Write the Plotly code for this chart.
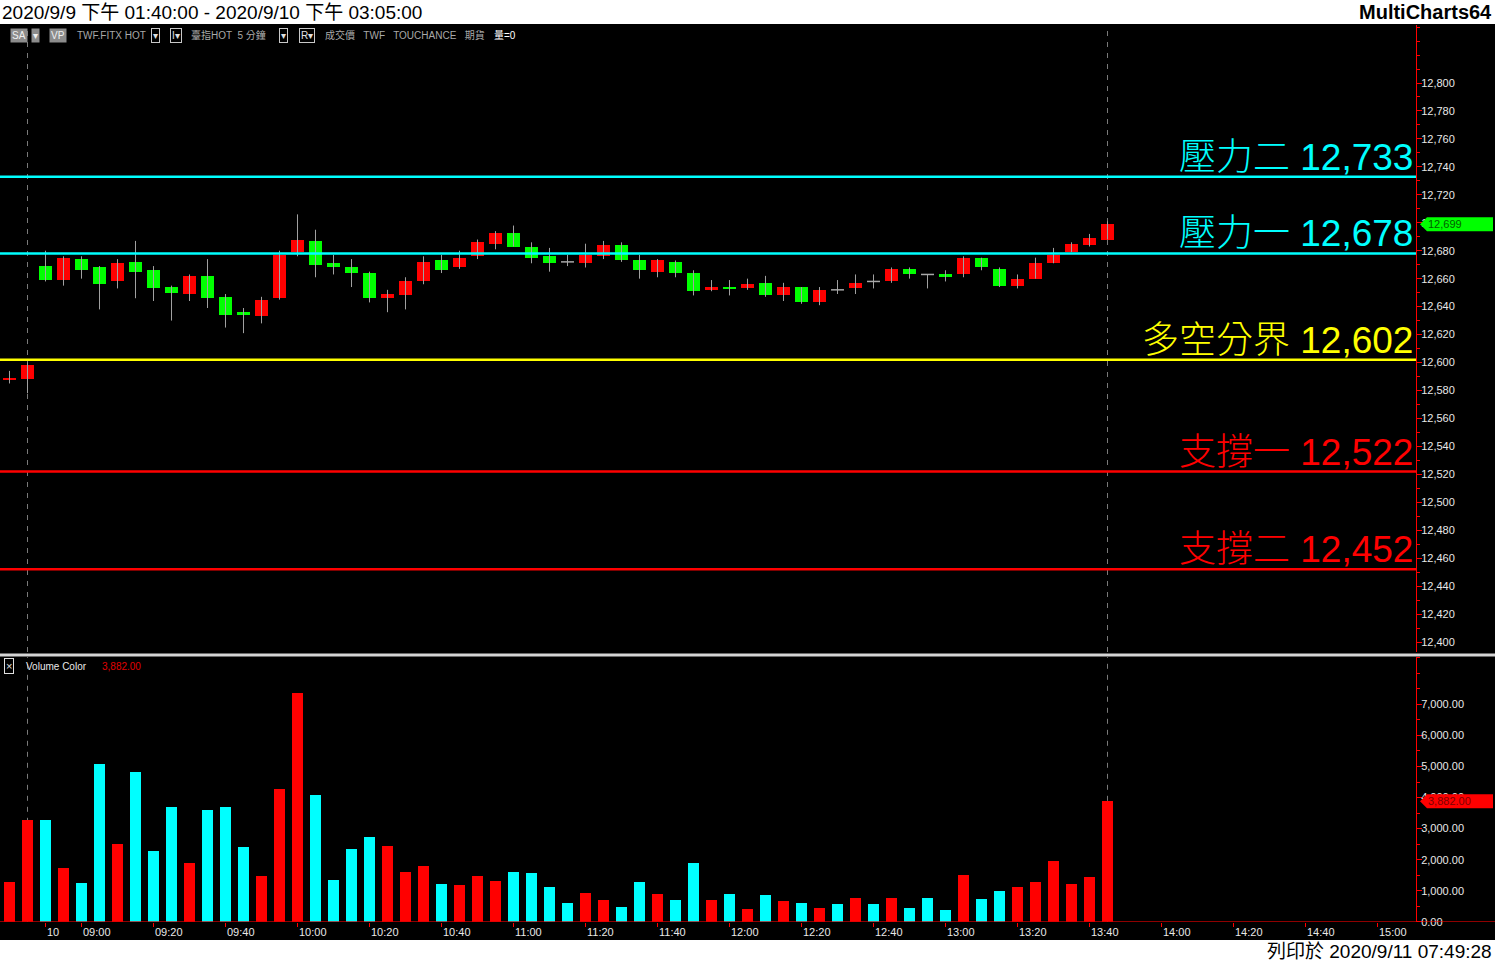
import plotly.graph_objects as go

# ---------------- data ----------------
bar_index = list(range(62))
opens = [12588, 12588, 12669, 12659, 12674, 12668, 12658, 12672, 12666, 12654,
         12649, 12662, 12647, 12636, 12633, 12646, 12679, 12687, 12671, 12668,
         12664, 12646, 12648, 12658, 12673, 12668, 12676, 12685, 12693, 12683,
         12676, 12672, 12671, 12676, 12684, 12673, 12665, 12672, 12664, 12652,
         12654, 12653, 12657, 12648, 12654, 12643, 12652, 12653, 12658, 12658,
         12667, 12663, 12663, 12663, 12675, 12667, 12655, 12660, 12671, 12679,
         12684, 12688]
highs = [12594, 12600, 12680, 12676, 12676, 12669, 12674, 12687, 12669, 12655,
         12663, 12674, 12649, 12639, 12647, 12680, 12706, 12695, 12677, 12674,
         12665, 12652, 12661, 12676, 12677, 12680, 12688, 12694, 12698, 12686,
         12682, 12677, 12685, 12687, 12686, 12677, 12674, 12673, 12666, 12659,
         12659, 12660, 12662, 12657, 12654, 12654, 12659, 12663, 12663, 12668,
         12668, 12663, 12666, 12676, 12675, 12668, 12663, 12675, 12682, 12686,
         12692, 12701]
lows = [12585, 12578, 12658, 12655, 12660, 12638, 12653, 12646, 12644, 12630,
        12644, 12639, 12625, 12621, 12628, 12645, 12676, 12661, 12663, 12654,
        12643, 12636, 12638, 12656, 12664, 12667, 12674, 12681, 12683, 12671,
        12665, 12669, 12668, 12674, 12672, 12660, 12661, 12661, 12648, 12651,
        12648, 12652, 12647, 12644, 12642, 12641, 12649, 12649, 12653, 12657,
        12660, 12653, 12658, 12661, 12666, 12654, 12653, 12660, 12671, 12679,
        12683, 12688]
closes = [12589, 12598, 12659, 12675, 12666, 12656, 12671, 12665, 12653, 12650,
          12662, 12646, 12634, 12634, 12645, 12677, 12688, 12670, 12668, 12664,
          12646, 12649, 12658, 12672, 12666, 12675, 12686, 12693, 12683, 12675,
          12671, 12672, 12677, 12684, 12673, 12666, 12673, 12664, 12651, 12654,
          12653, 12656, 12648, 12654, 12643, 12652, 12652, 12657, 12658, 12667,
          12663, 12663, 12661, 12675, 12668, 12655, 12660, 12671, 12677, 12685,
          12689, 12699]
volumes = [1281, 3277, 3277, 1731, 1249, 5079, 2504, 4822, 2279, 3695,
           1892, 3599, 3695, 2408, 1474, 4275, 7365, 4081, 1345, 2343,
           2729, 2440, 1603, 1796, 1216, 1184, 1474, 1313, 1603, 1571,
           1120, 605, 927, 701, 476, 1281, 895, 701, 1892, 701,
           895, 412, 862, 669, 605, 444, 573, 766, 573, 766,
           444, 766, 380, 1506, 734, 991, 1120, 1281, 1957, 1216,
           1442, 3882]

time_tick_index = [2, 4, 8, 12, 16, 20, 24, 28, 32, 36, 40, 44, 48, 52, 56, 60, 64, 68, 72, 76]
time_tick_labels = ["10", "09:00", "09:20", "09:40", "10:00", "10:20", "10:40", "11:00",
                    "11:20", "11:40", "12:00", "12:20", "12:40", "13:00", "13:20", "13:40",
                    "14:00", "14:20", "14:40", "15:00"]

level_names = ["壓力二", "壓力一", "多空分界", "支撐一", "支撐二"]
level_values = [12733, 12678, 12602, 12522, 12452]
level_colors = ["#00ffff", "#00ffff", "#ffff00", "#ff0000", "#ff0000"]

price_ticks = list(range(12400, 12801, 20))
volume_ticks = list(range(0, 7001, 1000))
session_break_index = 1

# ---------------- geometry ----------------
W, H = 1495, 962
PLOT_R = 1416
def fx(p):
    return p / W
def fy(p):
    return 1 - p / H

UP, DOWN, DOJI = "#ff0000", "#00ff00", "#a8a8a8"
VUP, VDOWN = "#ff0000", "#00ffff"
WICK = "#a0a0a0"
TXT = "#e8e8e8"
BW = 0.72

fig = go.Figure()

# wicks
wx, wy = [], []
for i, h, l in zip(bar_index, highs, lows):
    wx += [i, i, None]
    wy += [l, h, None]
fig.add_trace(go.Scatter(x=wx, y=wy, mode="lines", line=dict(color=WICK, width=1),
                         hoverinfo="skip", showlegend=False, xaxis="x", yaxis="y"))

# bodies
bx, bbase, bh, bc = [], [], [], []
dx, dy = [], []
for i, o, c in zip(bar_index, opens, closes):
    if c == o:
        dx += [i - BW / 2, i + BW / 2, None]
        dy += [o, o, None]
    else:
        bx.append(i)
        bbase.append(min(o, c))
        bh.append(abs(c - o))
        bc.append(UP if c > o else DOWN)
fig.add_trace(go.Bar(x=bx, y=bh, base=bbase, width=BW, marker=dict(color=bc, line=dict(width=0)),
                     showlegend=False, xaxis="x", yaxis="y"))
fig.add_trace(go.Scatter(x=dx, y=dy, mode="lines", line=dict(color=DOJI, width=1.5),
                         hoverinfo="skip", showlegend=False, xaxis="x", yaxis="y"))

# volume
vcol = [VUP if c > o else VDOWN for o, c in zip(opens, closes)]
fig.add_trace(go.Bar(x=bar_index, y=volumes, width=0.61, marker=dict(color=vcol, line=dict(width=0)),
                     showlegend=False, xaxis="x2", yaxis="y2"))

xr = [-9.5 / 18, (PLOT_R - 9.5) / 18]
price_range = [12800 - (652 - 83) / 1.3975, 12800 + (83 - 25) / 1.3975]
vol_scale = 0.031067
vol_range = [0, (921.8 - 657) / vol_scale]

axis_font = dict(family="Liberation Sans, Arial, sans-serif", size=11, color=TXT)

fig.update_layout(
    width=W, height=H,
    margin=dict(l=0, r=0, t=0, b=0, pad=0, autoexpand=False),
    paper_bgcolor="white", plot_bgcolor="black",
    barmode="overlay", bargap=0,
    showlegend=False,
    xaxis=dict(domain=[0, fx(PLOT_R)], range=xr, anchor="y", showgrid=False, zeroline=False,
               showticklabels=False, ticks="", showline=False, automargin=False),
    xaxis2=dict(domain=[0, fx(PLOT_R)], range=xr, anchor="y2", showgrid=False, zeroline=False,
                tickmode="array", tickvals=time_tick_index, showticklabels=False, automargin=False,
                ticks="outside", ticklen=4, tickcolor="#ff0000", tickwidth=1, showline=False),
    yaxis=dict(domain=[fy(652), fy(25)], range=price_range, anchor="x", side="right",
               showgrid=False, zeroline=False, showline=True, linecolor="#ff0000", linewidth=1,
               automargin=False, ticklabelstandoff=-3,
               tickmode="array", tickvals=price_ticks, ticktext=[f"{v:,}" for v in price_ticks],
               ticks="outside", ticklen=5, tickcolor="#ff0000", tickfont=axis_font,
               minor=dict(tickmode="linear", tick0=12400, dtick=10, ticks="outside", ticklen=3,
                          tickcolor="#ff0000", showgrid=False)),
    yaxis2=dict(domain=[fy(921.8), fy(657)], range=vol_range, anchor="x2", side="right",
                showgrid=False, zeroline=False, showline=True, linecolor="#ff0000", linewidth=1,
                automargin=False, ticklabelstandoff=-3,
                tickmode="array", tickvals=volume_ticks, ticktext=[f"{v:,.2f}" for v in volume_ticks],
                ticks="outside", ticklen=5, tickcolor="#ff0000", tickfont=axis_font,
                minor=dict(tickmode="linear", tick0=0, dtick=500, ticks="outside", ticklen=3,
                           tickcolor="#ff0000", showgrid=False)),
)

shapes = []
# black working area
shapes.append(dict(type="rect", xref="paper", yref="paper", x0=0, x1=1, y0=fy(940), y1=fy(24),
                   fillcolor="black", line=dict(width=0), layer="below"))
# pane separator
shapes.append(dict(type="line", xref="paper", yref="paper", x0=0, x1=1, y0=fy(655), y1=fy(655),
                   line=dict(color="#d4d4d4", width=3), layer="above"))
# bottom axis line
shapes.append(dict(type="line", xref="paper", yref="y2", x0=0, x1=1, y0=0, y1=0,
                   line=dict(color="#ff0000", width=1.2), layer="above"))
# session dashed lines
for xi in [session_break_index, bar_index[-1]]:
    for yr in ["y domain", "y2 domain"]:
        shapes.append(dict(type="line", xref="x" if yr.startswith("y ") else "x2", yref=yr,
                           x0=xi, x1=xi, y0=0, y1=1,
                           line=dict(color="#7a7a7a", width=1, dash="5px,6px"), layer="below"))
# level lines
for v, col in zip(level_values, level_colors):
    shapes.append(dict(type="line", xref="x domain", yref="y", x0=0, x1=1, y0=v, y1=v,
                       line=dict(color=col, width=2.5), layer="above"))
# last price marker
marker_path = "M 4 0 L 11 -7 L 77 -7 L 77 7 L 11 7 Z"
shapes.append(dict(type="path", xref="paper", yref="y", xsizemode="pixel", ysizemode="pixel",
                   xanchor=fx(PLOT_R), yanchor=closes[-1], path=marker_path,
                   fillcolor="#00ff00", line=dict(width=0), layer="above"))
shapes.append(dict(type="path", xref="paper", yref="y2", xsizemode="pixel", ysizemode="pixel",
                   xanchor=fx(PLOT_R), yanchor=volumes[-1], path=marker_path,
                   fillcolor="#ff0000", line=dict(width=0), layer="above"))
fig.update_layout(shapes=shapes)

ann = []
# time labels
for idx, lab in zip(time_tick_index, time_tick_labels):
    ann.append(dict(x=idx, xref="x2", y=fy(932), yref="paper", text=lab, showarrow=False,
                    xanchor="left", yanchor="middle", xshift=-1, font=axis_font))
# level labels
for name, v, col in zip(level_names, level_values, level_colors):
    ann.append(dict(x=(PLOT_R - 2) / PLOT_R, xref="x domain", y=v, yref="y",
                    text=f"{name} {v:,}", showarrow=False, xanchor="right", yanchor="bottom",
                    yshift=-2, borderpad=0,
                    font=dict(family="Liberation Sans, Noto Sans CJK TC, sans-serif", size=37,
                              color=col, weight=300)))
# price marker text
ann.append(dict(x=fx(PLOT_R + 10), xref="paper", y=closes[-1], yref="y", text=f"{closes[-1]:,}",
                showarrow=False, xanchor="left", yanchor="middle",
                font=dict(family="Liberation Sans, Arial", size=11, color="#006000")))
ann.append(dict(x=fx(PLOT_R + 10), xref="paper", y=volumes[-1], yref="y2", text=f"{volumes[-1]:,.2f}",
                showarrow=False, xanchor="left", yanchor="middle",
                font=dict(family="Liberation Sans, Arial", size=11, color="#800000")))

# header strip
hfont = dict(family="Liberation Sans, Noto Sans CJK TC, sans-serif", size=19, color="black")
ann.append(dict(x=0, xref="paper", y=fy(12), yref="paper", text="2020/9/9 下午 01:40:00 - 2020/9/10 下午 03:05:00",
                showarrow=False, xanchor="left", yanchor="middle", font=hfont))
bfont = dict(hfont)
bfont["size"] = 20
ann.append(dict(x=fx(1494), xref="paper", y=fy(12), yref="paper", text="<b>MultiCharts64</b>",
                showarrow=False, xanchor="right", yanchor="middle", font=bfont))
ann.append(dict(x=fx(1494), xref="paper", y=fy(951), yref="paper", text="列印於 2020/9/11 07:49:28",
                showarrow=False, xanchor="right", yanchor="middle", font=hfont))

# toolbar
tb_y = fy(35)
small = dict(family="Liberation Sans, Noto Sans CJK TC, sans-serif", size=10, color="#a8a8a8")
def tb(x, text, color="#a8a8a8", bg=None, border=None):
    f = dict(small)
    f["color"] = color
    d = dict(x=fx(x), xref="paper", y=tb_y, yref="paper", text=text, showarrow=False,
             xanchor="left", yanchor="middle", font=f, borderpad=1)
    if bg:
        d["bgcolor"] = bg
    if border:
        d["bordercolor"] = border
        d["borderwidth"] = 1
    ann.append(d)
tb(10, "SA", "#f0f0f0", bg="#8c8c8c")
tb(31, "▾", "#f0f0f0", bg="#8c8c8c")
tb(49, "VP", "#f0f0f0", bg="#8c8c8c")
tb(75, "TWF.FITX HOT")
tb(151, "▾", "#e0e0e0", border="#c8c8c8")
tb(170, "I▾", "#e0e0e0", border="#c8c8c8")
tb(189, "臺指HOT  5 分鐘")
tb(279, "▾", "#e0e0e0", border="#c8c8c8")
tb(299, "R▾", "#e0e0e0", border="#c8c8c8")
tb(323, "成交價   TWF   TOUCHANCE   期貨")
tb(492, "量=0", "#ffffff")

# volume header
vh_y = fy(666)
ann.append(dict(x=fx(4), xref="paper", y=vh_y, yref="paper", text="×", showarrow=False,
                xanchor="left", yanchor="middle", bordercolor="#e0e0e0", borderwidth=1, borderpad=1,
                font=dict(family="Liberation Sans", size=11, color="#e0e0e0")))
ann.append(dict(x=fx(24), xref="paper", y=vh_y, yref="paper", text="Volume Color", showarrow=False,
                xanchor="left", yanchor="middle", font=dict(family="Liberation Sans", size=10, color="#e8e8e8")))
ann.append(dict(x=fx(100), xref="paper", y=vh_y, yref="paper", text=f"{volumes[-1]:,.2f}", showarrow=False,
                xanchor="left", yanchor="middle", font=dict(family="Liberation Sans", size=10, color="#e00000")))

fig.update_layout(annotations=ann)
fig.write_html("out.html", config={"displayModeBar": False},
               post_script="document.body.style.margin='0';document.body.style.overflow='hidden';")
